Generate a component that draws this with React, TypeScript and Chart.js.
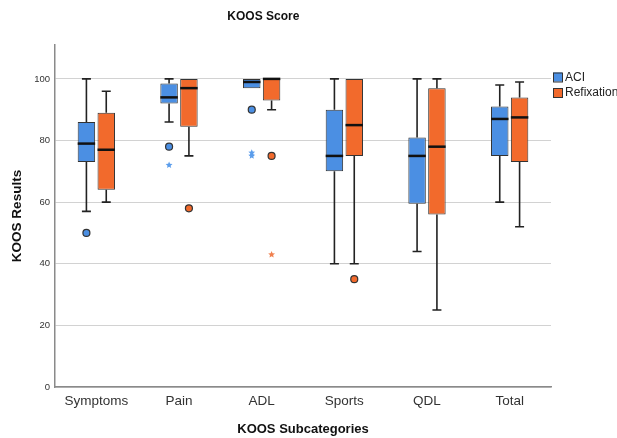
import { useEffect, useRef } from 'react';
import { Chart, registerables } from 'chart.js';

Chart.register(...registerables);

const categories = ['Symptoms', 'Pain', 'ADL', 'Sports', 'QDL', 'Total'];
const yTicks = [0, 20, 40, 60, 80, 100];

const aciMin = [57, 86, 97, 40, 44, 60];
const aciQ1 = [73, 92, 97, 70, 59.5, 75];
const aciMedian = [79, 94, 99, 75, 75, 87];
const aciQ3 = [86, 98.5, 100, 90, 81, 91];
const aciMax = [100, 100, 100, 100, 100, 98];
const aciOutliers = [[50], [78], [90], [], [], []];
const aciExtremes = [[], [72], [76, 75], [], [], []];

const refMin = [60, 75, 90, 40, 25, 52];
const refQ1 = [64, 84.5, 93, 75, 56, 73];
const refMedian = [77, 97, 100, 85, 78, 87.5];
const refQ3 = [89, 100, 100, 100, 97, 94];
const refMax = [96, 100, 100, 100, 100, 99];
const refOutliers = [[], [58], [75], [35], [], []];
const refExtremes = [[], [], [43], [], [], []];

const FONT = "'Liberation Sans', Arial, sans-serif";
const BLUE = '#4b8fe3';
const ORANGE = '#f26a2c';
const BLUE_STAR = '#5b9deb';
const ORANGE_STAR = '#f0804f';

const series = [
  { label: 'ACI', color: BLUE, star: BLUE_STAR, min: aciMin, q1: aciQ1, med: aciMedian, q3: aciQ3, max: aciMax, out: aciOutliers, ext: aciExtremes },
  { label: 'Refixation', color: ORANGE, star: ORANGE_STAR, min: refMin, q1: refQ1, med: refMedian, q3: refQ3, max: refMax, out: refOutliers, ext: refExtremes },
];

function drawStar(ctx: CanvasRenderingContext2D, cx: number, cy: number, r: number) {
  ctx.beginPath();
  for (let k = 0; k < 10; k++) {
    const rad = k % 2 === 0 ? r : r * 0.45;
    const a = -Math.PI / 2 + (k * Math.PI) / 5;
    const px = cx + rad * Math.cos(a);
    const py = cy + rad * Math.sin(a);
    if (k === 0) ctx.moveTo(px, py);
    else ctx.lineTo(px, py);
  }
  ctx.closePath();
  ctx.fill();
}

export default function App() {
  const ref = useRef<HTMLCanvasElement>(null);

  useEffect(() => {
    if (!ref.current) return;

    const boxPlugin = {
      id: 'boxWhiskers',
      afterDatasetsDraw(chart: any) {
        const ctx = chart.ctx as CanvasRenderingContext2D;
        const ys = chart.scales.y;
        series.forEach((s, di) => {
          const meta = chart.getDatasetMeta(di);
          meta.data.forEach((bar: any, i: number) => {
            const x = bar.x;
            const w = bar.width;
            const capW = 9;
            ctx.save();
            ctx.strokeStyle = '#222';
            ctx.lineWidth = 1.6;
            const pMin = ys.getPixelForValue(s.min[i]);
            const pQ1 = ys.getPixelForValue(s.q1[i]);
            const pQ3 = ys.getPixelForValue(s.q3[i]);
            const pMax = ys.getPixelForValue(s.max[i]);
            if (s.max[i] > s.q3[i]) {
              ctx.beginPath();
              ctx.moveTo(x, pQ3);
              ctx.lineTo(x, pMax);
              ctx.moveTo(x - capW / 2, pMax);
              ctx.lineTo(x + capW / 2, pMax);
              ctx.stroke();
            }
            if (s.min[i] < s.q1[i]) {
              ctx.beginPath();
              ctx.moveTo(x, pQ1);
              ctx.lineTo(x, pMin);
              ctx.moveTo(x - capW / 2, pMin);
              ctx.lineTo(x + capW / 2, pMin);
              ctx.stroke();
            }
            // median
            const pMed = ys.getPixelForValue(s.med[i]);
            ctx.strokeStyle = '#111';
            ctx.lineWidth = 2.5;
            ctx.beginPath();
            ctx.moveTo(x - w / 2, pMed);
            ctx.lineTo(x + w / 2, pMed);
            ctx.stroke();
            // outliers (circles)
            s.out[i].forEach((v: number) => {
              const py = ys.getPixelForValue(v);
              ctx.beginPath();
              ctx.arc(x, py, 3.5, 0, Math.PI * 2);
              ctx.fillStyle = s.color;
              ctx.fill();
              ctx.lineWidth = 1.2;
              ctx.strokeStyle = '#333';
              ctx.stroke();
            });
            // extremes (stars)
            s.ext[i].forEach((v: number) => {
              const py = ys.getPixelForValue(v);
              ctx.fillStyle = s.star;
              drawStar(ctx, x, py, 3.6);
            });
            ctx.restore();
          });
        });
      },
      afterDraw(chart: any) {
        const ctx = chart.ctx as CanvasRenderingContext2D;
        const area = chart.chartArea;
        ctx.save();
        // title
        ctx.fillStyle = '#111';
        ctx.font = `bold 12px ${FONT}`;
        ctx.textAlign = 'center';
        ctx.textBaseline = 'middle';
        ctx.fillText('KOOS Score', area.left + (area.right - area.left) * 0.42, 17);
        // legend
        const lx = area.right + 2;
        ctx.textAlign = 'left';
        ctx.font = `12px ${FONT}`;
        series.forEach((s, k) => {
          const ly = 72.5 + k * 15.5;
          ctx.fillStyle = s.color;
          ctx.fillRect(lx, ly, 9, 9);
          ctx.strokeStyle = '#333';
          ctx.lineWidth = 1;
          ctx.strokeRect(lx + 0.5, ly + 0.5, 9, 9);
          ctx.fillStyle = '#222';
          ctx.fillText(s.label, lx + 12, ly + 5);
        });
        ctx.restore();
      },
    };

    const chart = new Chart(ref.current, {
      type: 'bar',
      data: {
        labels: categories,
        datasets: series.map((s) => ({
          label: s.label,
          data: s.q1.map((q, i) => [q, s.q3[i]]),
          backgroundColor: s.color,
          borderColor: '#333',
          borderWidth: 1,
          borderSkipped: false,
          categoryPercentage: 0.48,
          barPercentage: 0.88,
        })),
      },
      options: {
        responsive: false,
        animation: false,
        layout: { padding: { top: 45, right: 66, bottom: 0, left: 0 } },
        plugins: {
          legend: { display: false },
          title: { display: false },
          tooltip: { enabled: false },
        },
        scales: {
          x: {
            grid: { display: false, drawTicks: false },
            border: { display: true, color: '#8a8a8a', width: 1.5 },
            ticks: { padding: 6, color: '#333', font: { family: FONT, size: 13.5 } },
            title: {
              display: true,
              text: 'KOOS Subcategories',
              color: '#111',
              font: { family: FONT, size: 13, weight: 'bold' },
              padding: { top: 0, bottom: 1 },
            },
            afterFit: (scale: any) => {
              scale.height = 51;
            },
          },
          y: {
            min: 0,
            max: 111,
            grid: { color: '#d2d2d2', lineWidth: 1, drawTicks: false },
            border: { display: true, color: '#8a8a8a', width: 1.5 },
            ticks: { padding: 5, color: '#333', font: { family: FONT, size: 9.5 } },
            afterBuildTicks: (scale: any) => {
              scale.ticks = yTicks.map((v) => ({ value: v }));
            },
            title: {
              display: true,
              text: 'KOOS Results',
              color: '#111',
              font: { family: FONT, size: 13.5, weight: 'bold' },
              padding: { top: 9, bottom: 0 },
            },
            afterFit: (scale: any) => {
              scale.width = 55;
            },
          },
        },
      },
      plugins: [boxPlugin],
    } as any);

    return () => chart.destroy();
  }, []);

  return (
    <div style={{ position: 'fixed', left: 0, top: 0, width: 617, height: 438, background: '#fff' }}>
      <canvas ref={ref} width={617} height={438} style={{ display: 'block' }} />
    </div>
  );
}
